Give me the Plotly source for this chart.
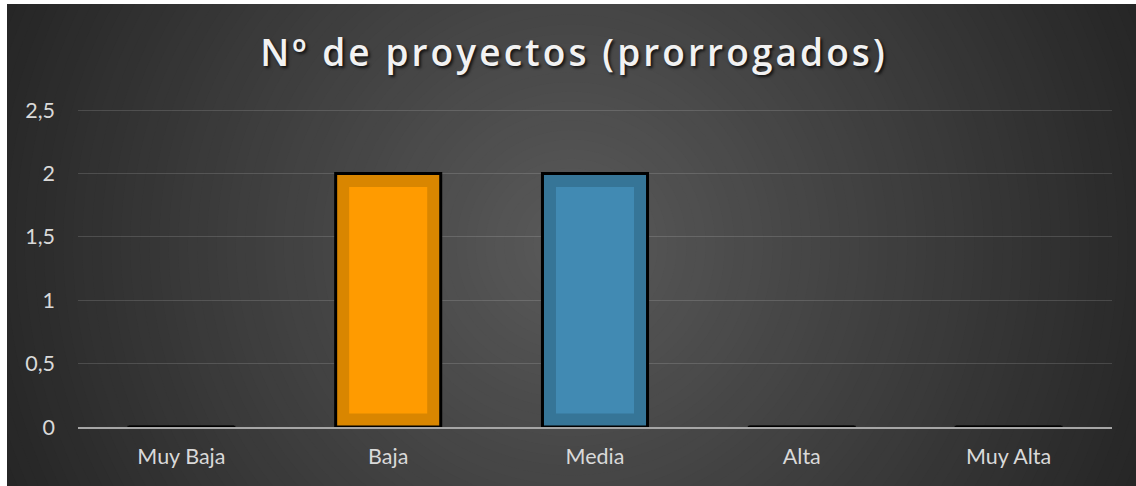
import plotly.graph_objects as go

# ---- data ----
categories = ["Muy Baja", "Baja", "Media", "Alta", "Muy Alta"]
values = [0, 2, 2, 0, 0]
band_colors = ["#d98600", "#d98600", "#367597", "#d98600", "#d98600"]
inner_colors = ["#ff9b00", "#ff9b00", "#418ab3", "#ff9b00", "#ff9b00"]
y_ticks = [0, 0.5, 1, 1.5, 2, 2.5]
title_text = "Nº de proyectos (prorrogados)"

# ---- layout constants (pixels) ----
W, H = 1136, 486
ML, MR, MT, MB = 78, 24, 107, 59
PW, PH = W - ML - MR, H - MT - MB
Y_TOP = 2.5 * PH / 317.0
BAR_W = 0.508
INSET_PX = 13.5
inset_x = INSET_PX / (PW / 5.0)
inset_y = INSET_PX / (PH / Y_TOP)

xs = list(range(len(categories)))

fig = go.Figure()

# outer bar (darker band + black outline)
fig.add_trace(go.Bar(
    x=xs, y=values, width=BAR_W,
    marker=dict(color=band_colors, line=dict(color="black", width=3)),
    hoverinfo="skip", showlegend=False,
))
# inner lighter fill
fig.add_trace(go.Bar(
    x=xs,
    y=[v - 2 * inset_y if v > 0 else None for v in values],
    base=[inset_y if v > 0 else None for v in values],
    width=BAR_W - 2 * inset_x,
    marker=dict(color=inner_colors, line=dict(width=0)),
    hoverinfo="skip", showlegend=False,
))
# zero-value bars shown as flat black outlines
zx, zy = [], []
for i, v in enumerate(values):
    if v == 0:
        zx += [i - (BAR_W / 2 + 0.007), i + (BAR_W / 2 + 0.007), None]
        zy += [v, v, None]
fig.add_trace(go.Scatter(
    x=zx, y=zy, mode="lines", line=dict(color="black", width=2.5),
    hoverinfo="skip", showlegend=False, cliponaxis=False,
))

# ---- radial gradient background made of concentric circles ----
def px2paper_x(px):
    return (px - ML) / PW

def px2paper_y(py):
    return (H - MB - py) / PH

shapes = []
cx, cy = (7 + W) / 2.0, (4 + H) / 2.0
R = ((W - cx) ** 2 + (H - cy) ** 2) ** 0.5
N = 64
c_out, c_in = 0x26, 0x5a
shapes.append(dict(type="rect", xref="paper", yref="paper",
                   x0=px2paper_x(0), x1=px2paper_x(W + 10), y0=px2paper_y(H + 10), y1=px2paper_y(0),
                   fillcolor="#262626", line=dict(width=0), layer="below"))
for k in range(N):
    d = 1 - k / N
    r = R * d
    c = round(c_in - (c_in - c_out) * d)
    col = "#%02x%02x%02x" % (c, c, c)
    shapes.append(dict(type="circle", xref="paper", yref="paper",
                       x0=px2paper_x(cx - r), x1=px2paper_x(cx + r),
                       y0=px2paper_y(cy + r), y1=px2paper_y(cy - r),
                       fillcolor=col, line=dict(width=0), layer="below"))
# white margins (top and left)
shapes.append(dict(type="rect", xref="paper", yref="paper",
                   x0=px2paper_x(-5), x1=px2paper_x(7), y0=px2paper_y(H + 5), y1=px2paper_y(-5),
                   fillcolor="white", line=dict(width=0), layer="below"))
shapes.append(dict(type="rect", xref="paper", yref="paper",
                   x0=px2paper_x(-5), x1=px2paper_x(W + 5), y0=px2paper_y(4), y1=px2paper_y(-5),
                   fillcolor="white", line=dict(width=0), layer="below"))

fig.update_layout(
    width=W, height=H, autosize=False,
    margin=dict(l=ML, r=MR, t=MT, b=MB, pad=0),
    paper_bgcolor="white",
    plot_bgcolor="rgba(0,0,0,0)",
    barmode="overlay",
    separators=",.",
    shapes=shapes,
    title=dict(
        text='<span style="letter-spacing:3.1px">' + title_text + "</span>",
        x=0.5 + 6 / W, xref="container", xanchor="center",
        y=1 - 53 / H, yref="container", yanchor="middle",
        font=dict(family="Open Sans", size=37, weight=600, color="#f2f2f2",
                  shadow="2px 2px 3px rgba(0,0,0,0.75)"),
    ),
    font=dict(family="Lato", size=21.5, color="#d9d9d9"),
    xaxis=dict(
        range=[-0.5, 4.5], tickmode="array", tickvals=xs, ticktext=categories,
        showgrid=False, zeroline=False, showline=True, linecolor="#a6a6a6", linewidth=2,
        ticks="", ticklabelstandoff=9, layer="below traces", fixedrange=True,
    ),
    yaxis=dict(
        range=[0, Y_TOP], tickmode="array", tickvals=y_ticks,
        showgrid=True, gridcolor="rgba(255,255,255,0.14)", gridwidth=1,
        zeroline=False, showline=False, ticks="", ticklabelstandoff=22,
        fixedrange=True,
    ),
)

fig.write_html(
    "out.html",
    config={"displayModeBar": False, "staticPlot": True},
    post_script=("document.documentElement.style.margin='0';"
                 "document.body.style.margin='0';"
                 "document.documentElement.style.overflow='hidden';"
                 "document.body.style.overflow='hidden';"),
)
